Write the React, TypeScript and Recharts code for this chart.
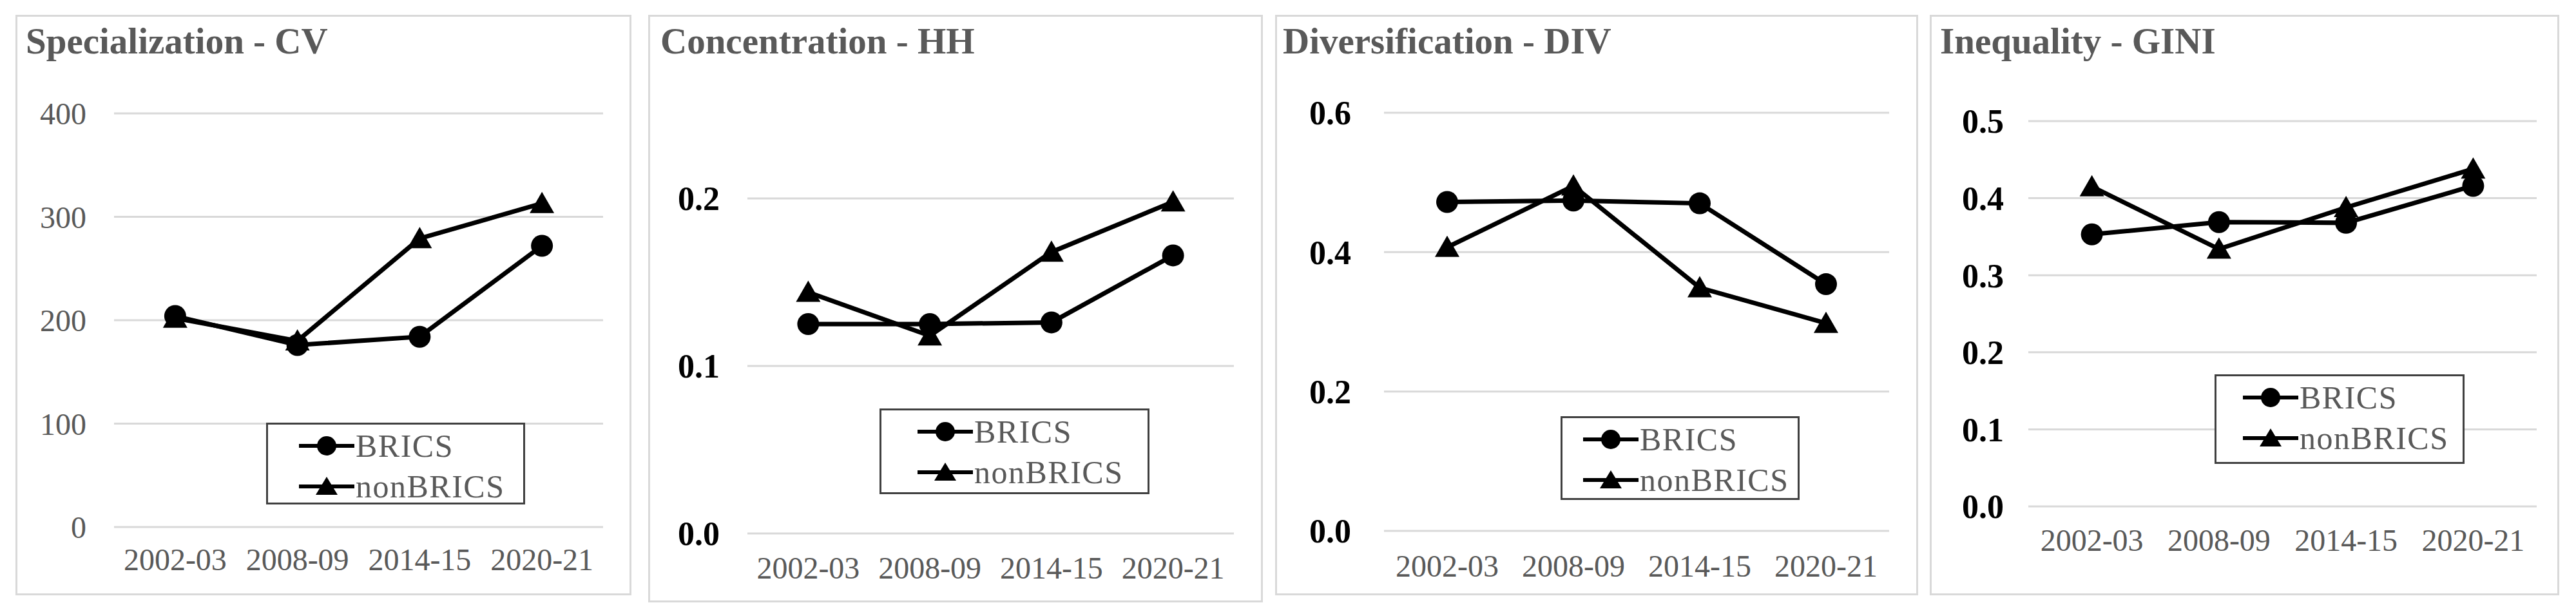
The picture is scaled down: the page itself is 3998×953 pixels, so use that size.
import { CartesianGrid, Legend, Line, LineChart, XAxis, YAxis } from "recharts";

const periods = ["2002-03", "2008-09", "2014-15", "2020-21"];

const cvBrics = [204, 176, 184, 272];
const cvNonBrics = [202, 180, 279, 313];
const cvTicks = [0, 100, 200, 300, 400];

const hhBrics = [0.125, 0.125, 0.126, 0.166];
const hhNonBrics = [0.144, 0.118, 0.168, 0.198];
const hhTicks = [0, 0.1, 0.2];

const divBrics = [0.472, 0.474, 0.47, 0.354];
const divNonBrics = [0.407, 0.495, 0.349, 0.298];
const divTicks = [0, 0.2, 0.4, 0.6];

const giniBrics = [0.353, 0.369, 0.368, 0.416];
const giniNonBrics = [0.415, 0.334, 0.388, 0.438];
const giniTicks = [0, 0.1, 0.2, 0.3, 0.4, 0.5];

const FONT = '"Liberation Serif", "Times New Roman", serif';
const GRAY = "#595959";
const LIGHT = "#d9d9d9";

const rowsOf = (brics: number[], non: number[]) =>
  periods.map((period, i) => ({ period, brics: brics[i], nonBrics: non[i] }));

const circleDot = (props: any) => {
  const { cx, cy, index } = props;
  if (cx == null || cy == null) return <g key={`c${index}`} />;
  return <circle key={`c${index}`} cx={cx} cy={cy} r={17} fill="#000" />;
};

const triangleDot = (props: any) => {
  const { cx, cy, index } = props;
  if (cx == null || cy == null) return <g key={`t${index}`} />;
  const pts = `${cx},${cy - 18} ${cx - 19},${cy + 15} ${cx + 19},${cy + 15}`;
  return <polygon key={`t${index}`} points={pts} fill="#000" />;
};

function LegendBox({ payload, padLeft }: any) {
  return (
    <div style={{ paddingTop: 1, paddingLeft: padLeft }}>
      {(payload ?? []).map((entry: any) => (
        <div
          key={entry.value}
          style={{ height: 63, display: "flex", alignItems: "center" }}
        >
          <svg width={86} height={40} style={{ display: "block" }}>
            <line x1={0} y1={20} x2={86} y2={20} stroke="#000" strokeWidth={6} />
            {entry.dataKey === "brics" ? (
              <circle cx={43} cy={20} r={15} fill="#000" />
            ) : (
              <polygon points="43,5 26,33 60,33" fill="#000" />
            )}
          </svg>
          <span
            style={{
              fontFamily: FONT,
              fontSize: 50,
              color: GRAY,
              letterSpacing: 1.5,
              marginLeft: 2,
              lineHeight: 1,
            }}
          >
            {entry.value}
          </span>
        </div>
      ))}
    </div>
  );
}

type PanelProps = {
  title: string;
  brics: number[];
  nonBrics: number[];
  ticks: number[];
  decimals: number;
  boldY: boolean;
  left: number;
  top: number;
  width: number;
  height: number;
  plotLeft: number;
  plotRight: number;
  plotTop: number;
  plotBottom: number;
  yGap: number;
  xGap: number;
  titleLeft: number;
  legend: { left: number; top: number; width: number; height: number; padLeft: number };
};

function Panel(p: PanelProps) {
  const data = rowsOf(p.brics, p.nonBrics);
  const yAxisWidth = p.plotLeft - p.left;
  const xAxisHeight = p.top + p.height - p.plotBottom;
  // Excel puts each category in the middle of its own band
  const halfBand = (p.plotRight - p.plotLeft) / periods.length / 2;
  return (
    <>
      <div
        style={{
          position: "absolute",
          left: p.left,
          top: p.top,
          width: p.width,
          height: p.height,
          border: `3px solid ${LIGHT}`,
          boxSizing: "border-box",
        }}
      />
      <div
        style={{
          position: "absolute",
          left: p.titleLeft,
          top: 36,
          fontFamily: FONT,
          fontWeight: "bold",
          fontSize: 57,
          lineHeight: "56px",
          color: GRAY,
          whiteSpace: "nowrap",
        }}
      >
        {p.title}
      </div>
      <div style={{ position: "absolute", left: p.left, top: p.top }}>
        <LineChart
          width={p.width}
          height={p.height}
          data={data}
          margin={{
            top: p.plotTop - p.top,
            right: p.left + p.width - p.plotRight,
            bottom: 0,
            left: 0,
          }}
        >
          <CartesianGrid vertical={false} stroke={LIGHT} strokeWidth={3} />
          <XAxis
            dataKey="period"
            axisLine={false}
            tickLine={false}
            tickSize={0}
            tickMargin={p.xGap}
            height={xAxisHeight}
            interval={0}
            padding={{ left: halfBand, right: halfBand }}
            tick={{ fill: GRAY, fontSize: 48, fontFamily: FONT }}
          />
          <YAxis
            domain={[p.ticks[0], p.ticks[p.ticks.length - 1]]}
            ticks={p.ticks}
            width={yAxisWidth}
            axisLine={false}
            tickLine={false}
            tickSize={0}
            tickMargin={p.yGap}
            tickFormatter={(v: number) => v.toFixed(p.decimals)}
            tick={
              p.boldY
                ? { fill: "#000", fontSize: 52, fontWeight: "bold", fontFamily: FONT }
                : { fill: GRAY, fontSize: 48, fontFamily: FONT }
            }
          />
          <Legend
            layout="vertical"
            align="center"
            verticalAlign="middle"
            content={(props: any) => (
              <LegendBox payload={props.payload} padLeft={p.legend.padLeft} />
            )}
            wrapperStyle={{
              left: p.legend.left,
              top: p.legend.top,
              width: p.legend.width,
              height: p.legend.height,
              border: "3px solid #404040",
              boxSizing: "border-box",
              background: "#fff",
            }}
          />
          <Line
            dataKey="brics"
            name="BRICS"
            stroke="#000"
            strokeWidth={7}
            dot={circleDot}
            activeDot={false}
            isAnimationActive={false}
          />
          <Line
            dataKey="nonBrics"
            name="nonBRICS"
            stroke="#000"
            strokeWidth={7}
            dot={triangleDot}
            activeDot={false}
            isAnimationActive={false}
          />
        </LineChart>
      </div>
    </>
  );
}

export default function App() {
  return (
    <div
      style={{
        position: "absolute",
        left: 0,
        top: 0,
        width: 3998,
        height: 953,
        background: "#fff",
        overflow: "hidden",
      }}
    >
      <Panel
        title="Specialization - CV"
        brics={cvBrics}
        nonBrics={cvNonBrics}
        ticks={cvTicks}
        decimals={0}
        boldY={false}
        left={24}
        top={23}
        width={956}
        height={901}
        plotLeft={177}
        plotRight={936}
        plotTop={176}
        plotBottom={818}
        yGap={43}
        xGap={33}
        titleLeft={40}
        legend={{ left: 389, top: 633, width: 402, height: 127, padLeft: 48 }}
      />
      <Panel
        title="Concentration - HH"
        brics={hhBrics}
        nonBrics={hhNonBrics}
        ticks={hhTicks}
        decimals={1}
        boldY={true}
        left={1006}
        top={23}
        width={954}
        height={912}
        plotLeft={1160}
        plotRight={1915}
        plotTop={308}
        plotBottom={828}
        yGap={43}
        xGap={36}
        titleLeft={1025}
        legend={{ left: 359, top: 611, width: 419, height: 133, padLeft: 56 }}
      />
      <Panel
        title="Diversification - DIV"
        brics={divBrics}
        nonBrics={divNonBrics}
        ticks={divTicks}
        decimals={1}
        boldY={true}
        left={1979}
        top={23}
        width={998}
        height={901}
        plotLeft={2148}
        plotRight={2932}
        plotTop={175}
        plotBottom={824}
        yGap={51}
        xGap={37}
        titleLeft={1991}
        legend={{ left: 443, top: 623, width: 371, height: 130, padLeft: 32 }}
      />
      <Panel
        title="Inequality - GINI"
        brics={giniBrics}
        nonBrics={giniNonBrics}
        ticks={giniTicks}
        decimals={1}
        boldY={true}
        left={2995}
        top={23}
        width={977}
        height={901}
        plotLeft={3148}
        plotRight={3937}
        plotTop={188}
        plotBottom={786}
        yGap={38}
        xGap={35}
        titleLeft={3011}
        legend={{ left: 442, top: 558, width: 388, height: 139, padLeft: 41 }}
      />
    </div>
  );
}
